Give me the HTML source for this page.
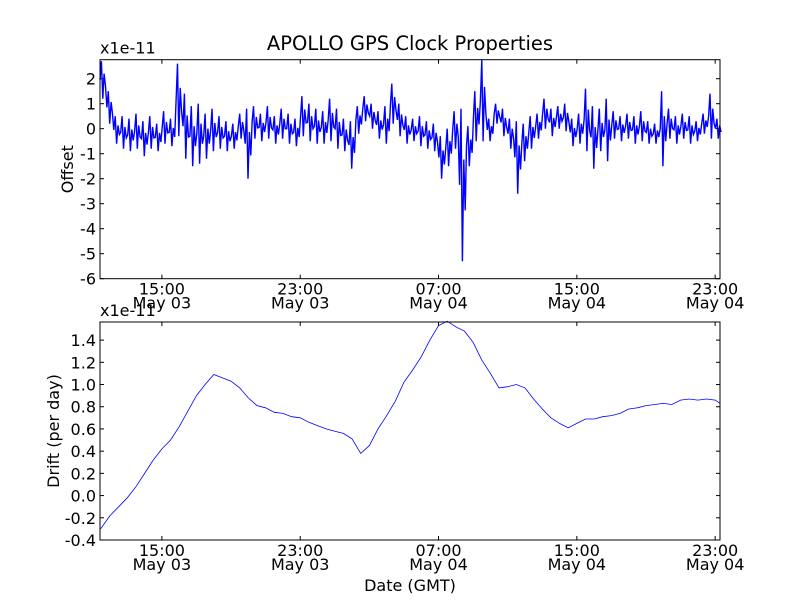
<!DOCTYPE html>
<html><head><meta charset="utf-8"><style>
body{margin:0;background:#fff}
svg text{font-family:"DejaVu Sans","Liberation Sans",sans-serif;fill:#000}
</style></head><body>
<svg id="chart" width="800" height="600" xmlns="http://www.w3.org/2000/svg">
<rect width="800" height="600" fill="#fff"/>
<text x="410" y="50" font-size="19.5" text-anchor="middle">APOLLO GPS Clock Properties</text>
</svg>
<script>
const xTickHours=[15,23,31,39,47];
const xTickTime=["15:00","23:00","07:00","15:00","23:00"];
const xTickDate=["May 03","May 03","May 04","May 04","May 04"];
const offsetTicks=[2,1,0,-1,-2,-3,-4,-5,-6];
const driftTicks=[1.4,1.2,1.0,0.8,0.6,0.4,0.2,0.0,-0.2,-0.4];
const offsetStart=11.42, offsetBin=0.4;
const offsetHigh=[2.7,1.5,0.5,0.5,0.4,0.6,0.3,0.5,0.2,0.7,0.4,2.6,1.4,0.9,1.0,0.6,0.8,0.5,0.3,0.2,0.6,0.8,0.9,0.6,0.9,0.5,0.8,0.6,0.4,1.3,1.0,0.8,0.7,1.2,0.8,0.4,0.3,0.9,1.3,1.0,0.7,0.9,1.8,1.0,0.5,0.4,0.5,0.3,0.2,-0.3,0.0,0.7,0.8,0.1,1.5,2.8,0.4,1.0,0.8,0.4,0.3,0.2,0.5,0.6,1.2,0.8,0.9,1.0,0.4,0.6,1.6,0.9,0.8,1.2,0.7,0.5,0.6,0.5,0.7,0.3,0.2,1.5,0.8,0.5,0.6,0.5,0.3,0.6,1.4,0.4];
const offsetLow=[1.2,0.2,-0.6,-0.8,-0.9,-0.8,-1.1,-0.8,-0.9,-0.6,-0.7,-0.3,-1.2,-1.5,-1.4,-1.2,-0.9,-0.8,-0.9,-0.8,-0.4,-2.0,-0.4,-0.5,-0.4,-0.6,-0.4,-0.6,-0.7,-0.3,-0.5,-0.6,-0.6,-0.5,-0.8,-0.9,-1.6,-0.2,0.3,0.0,-0.4,-0.6,0.2,-0.3,-0.6,-0.5,-0.7,-0.8,-0.9,-2.0,-1.5,-0.8,-5.3,-1.5,-0.5,-0.5,-0.5,0.2,-0.3,-0.8,-2.6,-1.3,-0.8,-0.4,0.0,-0.3,0.0,-0.1,-0.7,-0.6,-0.9,-1.6,-0.9,-1.3,-0.4,-0.5,-0.4,-0.6,-0.5,-0.6,-0.6,-1.5,-0.4,-0.6,-0.4,-0.6,-0.5,-0.2,-0.4,-0.4];
const driftHours=[11.42,11.5,12,12.5,13,13.5,14,14.5,15,15.5,16,16.5,17,17.5,18,18.5,19,19.5,20,20.5,21,21.5,22,22.5,23,23.5,24,24.5,25,25.5,26,26.5,27,27.5,28,28.5,29,29.5,30,30.5,31,31.5,32,32.5,33,33.5,34,34.5,35,35.5,36,36.5,37,37.5,38,38.5,39,39.5,40,40.5,41,41.5,42,42.5,43,43.5,44,44.5,45,45.5,46,46.5,47,47.28];
const driftValues=[-0.3,-0.29,-0.18,-0.1,-0.02,0.08,0.2,0.32,0.42,0.5,0.62,0.76,0.9,1.0,1.09,1.06,1.03,0.97,0.88,0.81,0.79,0.75,0.74,0.71,0.7,0.66,0.63,0.6,0.58,0.56,0.51,0.38,0.45,0.6,0.72,0.85,1.02,1.13,1.25,1.4,1.53,1.57,1.52,1.48,1.38,1.22,1.1,0.97,0.98,1.0,0.97,0.87,0.78,0.7,0.65,0.61,0.65,0.69,0.69,0.71,0.72,0.74,0.78,0.79,0.81,0.82,0.83,0.82,0.86,0.87,0.86,0.87,0.86,0.83];

const svg=document.getElementById('chart');
const NS='http://www.w3.org/2000/svg';
function mk(tag,attrs){const e=document.createElementNS(NS,tag);for(const k in attrs)e.setAttribute(k,attrs[k]);svg.appendChild(e);return e;}
const L=100,R=720,xMin=11.42,xMax=47.28;
const xs=h=>L+(h-xMin)/(xMax-xMin)*(R-L);
const FS=16;

function panel(top,bottom,yMin,yMax,ticks,fmt,label,name){
  const ys=v=>bottom-(v-yMin)/(yMax-yMin)*(bottom-top);
  ticks.forEach(t=>{
    const y=ys(t);
    const l1=mk('line',{x1:L,x2:L+4,y1:y,y2:y,stroke:'#000'});
    
    
    const l2=mk('line',{x1:R,x2:R-4,y1:y,y2:y,stroke:'#000'});
    
    
    const tx=mk('text',{x:L-4,y:y+6,'font-size':FS,'text-anchor':'end'});
    tx.textContent=fmt(t);
    
    
  });
  xTickHours.forEach((h,i)=>{
    const x=xs(h);
    const a=mk('line',{x1:x,x2:x,y1:bottom,y2:bottom-4,stroke:'#000'});
    
    
    const b=mk('line',{x1:x,x2:x,y1:top,y2:top+4,stroke:'#000'});
    
    
    const t1=mk('text',{x:x,y:bottom+16,'font-size':FS,'text-anchor':'middle'});
    t1.textContent=xTickTime[i];
    
    
    const t2=mk('text',{x:x,y:bottom+30,'font-size':FS,'text-anchor':'middle'});
    t2.textContent=xTickDate[i];
    
    
  });
  const ex=mk('text',{x:L,y:top-6,'font-size':FS});
  ex.textContent='x1e-11';
  
  
  const yl=mk('text',{x:0,y:0,'font-size':FS,'text-anchor':'middle',transform:`translate(${name==='offset'?73:59},${(top+bottom)/2}) rotate(-90)`});
  yl.textContent=label;
  
  
  return ys;
}
const ysO=panel(59.7,278.7,-6,2.76,offsetTicks,v=>String(v),'Offset','offset');
const ysD=panel(322,540,-0.4,1.563,driftTicks,v=>v.toFixed(1),'Drift (per day)','drift');

const pts=[];
const bw=xs(offsetStart+offsetBin)-xs(offsetStart);
offsetHigh.forEach((hi,i)=>{
  const x0=xs(offsetStart+i*offsetBin);
  const lo=offsetLow[i];
  const yh=Math.max(59.7,ysO(hi)), yl=ysO(lo);
  const mid=(yh+yl)/2;
  pts.push([x0,mid],[x0+bw*0.2,yh],[x0+bw*0.4,yl],[x0+bw*0.6,(yh*2+yl)/3],[x0+bw*0.8,(yh+yl*2)/3]);
});
const op=pts.map(p=>p[0].toFixed(1)+','+p[1].toFixed(1)).join(' ');
const ol=mk('polyline',{points:op,fill:'none',stroke:'#0000ff','stroke-width':1.4});


const dp=driftHours.map((h,i)=>xs(h).toFixed(1)+','+ysD(driftValues[i]).toFixed(1)).join(' ');
const dl=mk('polyline',{points:dp,fill:'none',stroke:'#0000ff','stroke-width':0.8});



const f1=mk('rect',{x:L,y:59.7,width:R-L,height:219,fill:'none',stroke:'#000'});


const f2=mk('rect',{x:L,y:322,width:R-L,height:218,fill:'none',stroke:'#000'});


const xl=mk('text',{x:410,y:591,'font-size':FS,'text-anchor':'middle'});
xl.textContent='Date (GMT)';


</script>
</body></html>
